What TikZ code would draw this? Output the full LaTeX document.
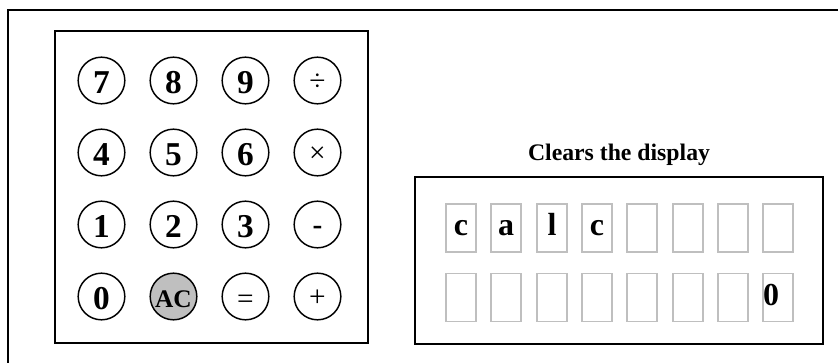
\documentclass[tikz,border=0pt]{standalone}
\usepackage{fontspec}
\setmainfont{Liberation Serif}
\usetikzlibrary{positioning}

\begin{document}
\begin{tikzpicture}[
    x=0.75pt, y=-0.75pt,
    frame/.style={draw, line width=1.5pt},
    key/.style={circle, draw, line width=1.1pt, minimum size=35pt, inner sep=0pt, text height=20pt, text depth=0pt, font=\fontsize{25}{30}\selectfont\bfseries},
    opkey/.style={key, text height=15.5pt, font=\fontsize{22}{26}\selectfont},
    ackey/.style={key, fill=black!25, text height=16.5pt, font=\fontsize{19}{23}\selectfont\bfseries},
    cell/.style={rectangle, draw=black!25, line width=1.2pt, minimum width=22.5pt, minimum height=36pt, inner sep=0pt},
    glyph/.style={anchor=base, font=\fontsize{24}{29}\selectfont\bfseries}
]

% Canvas
\useasboundingbox (0,0) rectangle (838,363);
\clip (0,0) rectangle (838,363);
\draw[frame] (8,10) rectangle (860,390);

% Keypad
\node[frame, rectangle, minimum width=234.75pt, minimum height=234pt] (keypad) at (211.5,187) {};

\node[key] (k7) at (101.5,80.5) {7};
\node[key] (k8) at (173.5,80.5) {8};
\node[key] (k9) at (245.5,80.5) {9};
\node[opkey] (kdiv) at (317.5,80.5) {÷};

\node[key] (k4) at (101.5,152.5) {4};
\node[key] (k5) at (173.5,152.5) {5};
\node[key] (k6) at (245.5,152.5) {6};
\node[opkey] (kmul) at (317.5,152.5) {×};

\node[key] (k1) at (101.5,224.5) {1};
\node[key] (k2) at (173.5,224.5) {2};
\node[key] (k3) at (245.5,224.5) {3};
\node[opkey] (ksub) at (317.5,224.5) {\bfseries -};

\node[key] (k0) at (101.5,296.5) {0};
\node[ackey] (kac) at (173.5,296.5) {AC};
\node[opkey, text height=18.5pt] (keq) at (245.5,296.5) {=};
\node[opkey] (kadd) at (317.5,296.5) {+};

% Display
\node[font=\fontsize{17.8}{21}\selectfont\bfseries, anchor=base] (title) at (619,161) {Clears the display};
\node[frame, rectangle, minimum width=306pt, minimum height=125.25pt] (display) at (619,260.5) {};

\node[cell] (a1) at (461,228) {};
\node[cell] (a2) at (506,228) {};
\node[cell] (a3) at (552,228) {};
\node[cell] (a4) at (597,228) {};
\node[cell] (a5) at (642,228) {};
\node[cell] (a6) at (688,228) {};
\node[cell] (a7) at (733,228) {};
\node[cell] (a8) at (778,228) {};

\node[cell] (b1) at (461,297.5) {};
\node[cell] (b2) at (506,297.5) {};
\node[cell] (b3) at (552,297.5) {};
\node[cell] (b4) at (597,297.5) {};
\node[cell] (b5) at (642,297.5) {};
\node[cell] (b6) at (688,297.5) {};
\node[cell] (b7) at (733,297.5) {};
\node[cell] (b8) at (778,297.5) {};

\node[glyph] (ch1) at (461,236) {c};
\node[glyph] (ch2) at (506,236) {a};
\node[glyph] (ch3) at (552,236) {l};
\node[glyph] (ch4) at (597,236) {c};
\node[glyph] (num) at (771,305) {0};

\end{tikzpicture}
\end{document}
